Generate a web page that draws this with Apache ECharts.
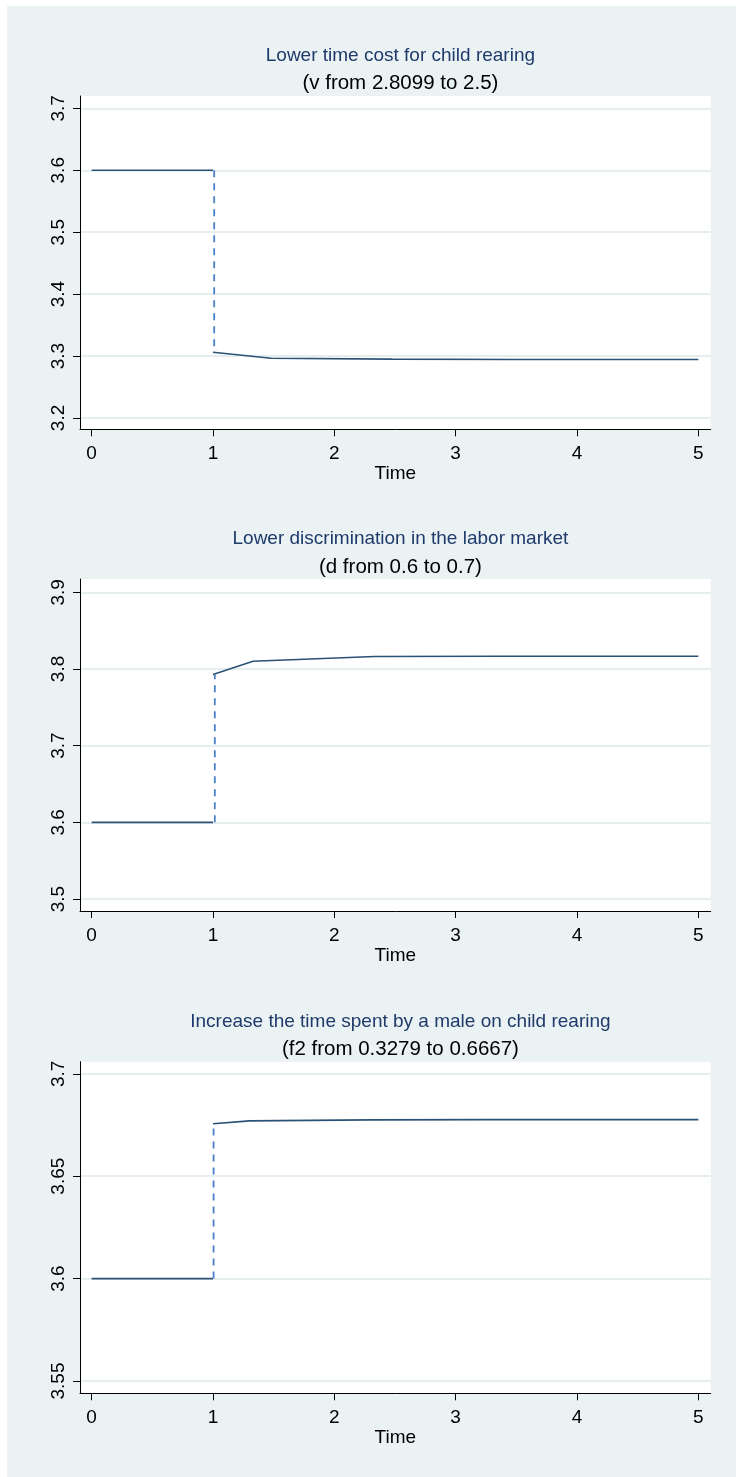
<!DOCTYPE html>
<html><head><meta charset="utf-8">
<script src="https://cdn.jsdelivr.net/npm/echarts@6/dist/echarts.min.js"></script>
<style>
html,body{margin:0;padding:0;background:#fff;}
#bg{position:absolute;left:7px;top:6px;width:729px;height:1471px;background:#eaf2f3;}
#chart{position:absolute;left:0;top:0;width:736px;height:1477px;}
</style></head><body>
<div id="bg"></div><div id="chart"></div>
<script>
// ---- data ----
const titles = ['Lower time cost for child rearing', 'Lower discrimination in the labor market', 'Increase the time spent by a male on child rearing'];
const subtitles = ['(v from 2.8099 to 2.5)', '(d from 0.6 to 0.7)', '(f2 from 0.3279 to 0.6667)'];
const xTicks = [0, 1, 2, 3, 4, 5];
const p1YTicks = [3.2, 3.3, 3.4, 3.5, 3.6, 3.7];
const p2YTicks = [3.5, 3.6, 3.7, 3.8, 3.9];
const p3YTicks = [3.55, 3.6, 3.65, 3.7];
const p1YRange = [3.1817, 3.7199];
const p2YRange = [3.4844, 3.9173];
const p3YRange = [3.5440, 3.7059];
const xRange = [-0.096, 5.102];

const preTime = [0, 1];
const p1PreValue = [3.6, 3.6];
const p2PreValue = [3.6, 3.6];
const p3PreValue = [3.6, 3.6];

const p1PostTime = [1, 1.48, 2.48, 3.48, 4.48, 5];
const p1PostValue = [3.306, 3.2965, 3.2950, 3.2945, 3.2944, 3.2944];
const p2PostTime = [1, 1.33, 2.33, 3.33, 4.33, 5];
const p2PostValue = [3.7927, 3.8100, 3.8162, 3.8165, 3.8166, 3.8166];
const p3PostTime = [1, 1.30, 2.30, 3.30, 4.30, 5];
const p3PostValue = [3.6756, 3.6770, 3.6775, 3.6776, 3.6776, 3.6776];

const shockTime = [1.01, 1.015, 1.005];

// ---- build ----
const FONT = '"Liberation Sans", Arial, sans-serif';
const panels = [
  {yTicks: p1YTicks, yRange: p1YRange, pre: p1PreValue, postT: p1PostTime, postV: p1PostValue},
  {yTicks: p2YTicks, yRange: p2YRange, pre: p2PreValue, postT: p2PostTime, postV: p2PostValue},
  {yTicks: p3YTicks, yRange: p3YRange, pre: p3PreValue, postT: p3PostTime, postV: p3PostValue}
];
const gridBoxes = [
  {top: 96, height: 333.3},
  {top: 579, height: 332},
  {top: 1061.7, height: 331.6}
];
const titleTops = [[41.5, 68], [524, 552], [1007.5, 1034]];

const zip = (a, b) => a.map((v, i) => [v, b[i]]);

const option = {
  animation: false,
  backgroundColor: 'transparent',
  title: [],
  grid: [],
  xAxis: [],
  yAxis: [],
  series: []
};

panels.forEach((p, i) => {
  option.title.push({
    text: titles[i], left: 395.4, top: titleTops[i][0], textAlign: 'center',
    textStyle: {fontFamily: FONT, fontSize: 19, fontWeight: 'normal', color: '#1f3a6b'}
  });
  option.title.push({
    text: subtitles[i], left: 395.4, top: titleTops[i][1], textAlign: 'center',
    textStyle: {fontFamily: FONT, fontSize: 20.5, fontWeight: 'normal', color: '#000'}
  });
  option.grid.push({
    left: 80, width: 630.7, top: gridBoxes[i].top, height: gridBoxes[i].height,
    show: true, backgroundColor: '#fff', borderWidth: 0, containLabel: false
  });
  option.xAxis.push({
    type: 'value', gridIndex: i, min: xRange[0], max: xRange[1],
    name: 'Time', nameLocation: 'middle', nameGap: 32,
    nameTextStyle: {fontFamily: FONT, fontSize: 19, color: '#000'},
    axisLine: {show: true, onZero: false, lineStyle: {color: '#000', width: 1}},
    axisTick: {show: true, length: 7, customValues: xTicks, lineStyle: {color: '#000'}},
    axisLabel: {customValues: xTicks, margin: 15, fontFamily: FONT, fontSize: 19, color: '#000'},
    splitLine: {show: false}
  });
  option.yAxis.push({
    type: 'value', gridIndex: i, min: p.yRange[0], max: p.yRange[1],
    axisLine: {show: true, onZero: false, lineStyle: {color: '#000', width: 1}},
    axisTick: {show: true, length: 7, customValues: p.yTicks, lineStyle: {color: '#000'}},
    axisLabel: {customValues: p.yTicks, rotate: 90, margin: 12, fontFamily: FONT, fontSize: 19, color: '#000'},
    splitLine: {show: true, lineStyle: {color: '#e6eef0', width: 2}}
  });
  option.series.push({
    type: 'line', xAxisIndex: i, yAxisIndex: i, symbol: 'none', silent: true,
    data: zip(preTime, p.pre), lineStyle: {color: '#2b5275', width: 1.6}, z: 3
  });
  option.series.push({
    type: 'line', xAxisIndex: i, yAxisIndex: i, symbol: 'none', silent: true,
    data: zip([shockTime[i], shockTime[i]], [p.pre[1], p.postV[0]]),
    lineStyle: {color: '#4a80c8', width: 1.8, type: [7, 6]}, z: 2
  });
  option.series.push({
    type: 'line', xAxisIndex: i, yAxisIndex: i, symbol: 'none', silent: true,
    data: zip(p.postT, p.postV), lineStyle: {color: '#2b5275', width: 1.6}, z: 3
  });
});

const chart = echarts.init(document.getElementById('chart'), null, {renderer: 'canvas'});
chart.setOption(option);
</script>
</body></html>
